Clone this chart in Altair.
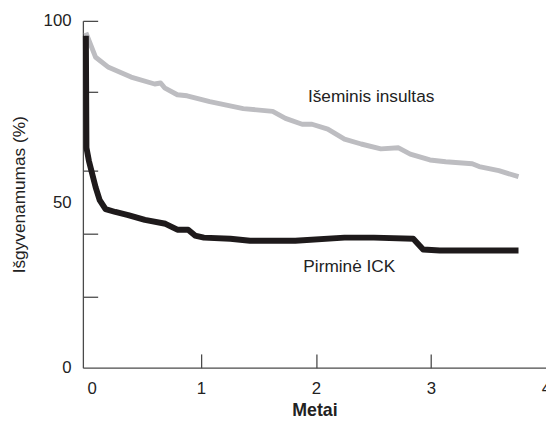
import altair as alt
import pandas as pd

# Išeminis insultas (grey curve): years, survival %
gray_t = [0.0, 0.085, 0.197, 0.393, 0.598, 0.65, 0.684, 0.795, 0.88, 1.077, 1.368, 1.624,
          1.735, 1.88, 1.966, 2.103, 2.248, 2.393, 2.564, 2.718, 2.82, 2.991, 3.128,
          3.359, 3.419, 3.59, 3.761]
gray_v = [96.6, 89.5, 86.6, 83.8, 81.8, 82.1, 80.7, 78.7, 78.4, 76.7, 74.7, 73.9,
          71.9, 70.2, 70.2, 68.8, 65.9, 64.5, 63.1, 63.4, 61.6, 59.9, 59.4,
          58.8, 58.0, 56.8, 55.1]

# Pirminė ICK (black curve)
black_t = [0.0, 0.005, 0.026, 0.085, 0.12, 0.171, 0.256, 0.368, 0.513, 0.692, 0.795, 0.889,
           0.949, 1.026, 1.256, 1.427, 1.82, 2.248, 2.504, 2.846, 2.932, 3.077, 3.761]
black_v = [95.7, 63.4, 59.7, 52.0, 48.3, 45.7, 44.9, 44.0, 42.6, 41.5, 39.8, 39.8,
           38.1, 37.5, 37.2, 36.6, 36.6, 37.5, 37.5, 37.2, 34.1, 33.8, 33.8]

label_text = ["Išeminis insultas", "Pirminė ICK"]
label_t = [2.48, 2.29]
label_v = [78.1, 29.0]

x_label_values = [0.05, 1, 2, 3, 4]
x_tick_values = [1, 2, 3]
y_label_values = [0, 47.7, 100]
y_tick_values = [20.5, 38.6, 56.8, 79.5, 100]

gray_df = pd.DataFrame({"t": gray_t, "v": gray_v})
black_df = pd.DataFrame({"t": black_t, "v": black_v})
lab_df = pd.DataFrame({"t": label_t, "v": label_v, "txt": label_text})

W, H = 470, 352
xs = alt.Scale(domain=[-0.026, 4.0], nice=False, zero=False)
ys = alt.Scale(domain=[0, 100], nice=False, zero=False)
FONT = "Liberation Sans"
AX = "#4a4a4a"

x_main = alt.Axis(values=x_label_values, labelExpr="format(round(datum.value), 'd')",
                  ticks=False, tickSize=0, labelPadding=13, labelFlush=False,
                  domain=True, domainColor=AX, domainWidth=1.3, grid=False,
                  labelFont=FONT, labelFontSize=17, labelColor="#222222",
                  title="Metai", titleFont=FONT, titleFontSize=18, titleFontWeight="bold",
                  titleColor="#222222", titleBaseline="alphabetic", titleY=49)
y_main = alt.Axis(values=y_label_values,
                  labelExpr="datum.value > 90 ? '100' : (datum.value > 10 ? '50' : '0')",
                  ticks=False, tickSize=0, labelPadding=12, grid=False,
                  domain=True, domainColor=AX, domainWidth=1.3,
                  labelFont=FONT, labelFontSize=17, labelColor="#222222",
                  title="Išgyvenamumas (%)", titleFont=FONT, titleFontSize=17.5,
                  titleFontWeight="normal", titleColor="#222222",
                  titleX=-64, titleBaseline="middle")
x_ticks = alt.Axis(orient="top", offset=-H, values=x_tick_values, labels=False,
                   domain=False, grid=False, tickSize=14, tickColor=AX, tickWidth=1.3,
                   title=None)
y_ticks = alt.Axis(orient="right", offset=-W, values=y_tick_values, labels=False,
                   domain=False, grid=False, tickSize=15, tickColor=AX, tickWidth=1.3,
                   title=None)

gray = alt.Chart(gray_df).mark_line(color="#bdbdc1", strokeWidth=5, strokeJoin="round").encode(
    x=alt.X("t:Q", scale=xs, axis=x_main),
    y=alt.Y("v:Q", scale=ys, axis=y_main),
)
black = alt.Chart(black_df).mark_line(color="#1e1a1b", strokeWidth=6, strokeJoin="round").encode(
    x=alt.X("t:Q", scale=xs, axis=x_ticks),
    y=alt.Y("v:Q", scale=ys, axis=y_ticks),
)
labels = alt.Chart(lab_df).mark_text(font=FONT, fontSize=17.5, color="#222222",
                                     align="center", baseline="middle").encode(
    x=alt.X("t:Q", scale=xs, axis=None),
    y=alt.Y("v:Q", scale=ys, axis=None),
    text="txt:N",
)

chart = alt.layer(gray, black, labels).resolve_axis(
    x="independent", y="independent"
).properties(
    width=W, height=H,
    autosize=alt.AutoSizeParams(type="none"),
    padding={"left": 76, "top": 10, "right": 0, "bottom": 50},
).configure_view(stroke=None)

chart.save("out.html", embed_options={"renderer": "svg", "actions": False})
